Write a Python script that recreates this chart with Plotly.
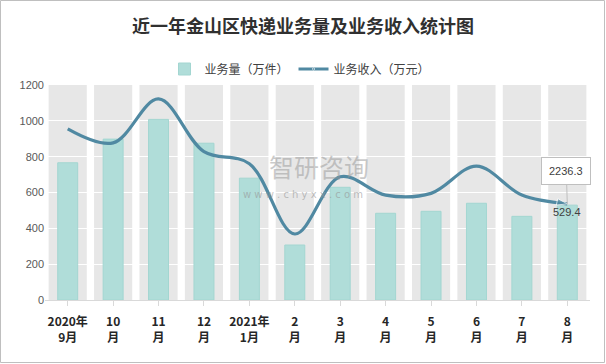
import plotly.graph_objects as go

categories = ["2020年<br>9月", "10<br>月", "11<br>月", "12<br>月", "2021年<br>1月", "2<br>月",
              "3<br>月", "4<br>月", "5<br>月", "6<br>月", "7<br>月", "8<br>月"]
volume = [766, 898, 1008, 875, 680, 307, 629, 484, 495, 540, 467, 529.4]
revenue = [3980, 3655, 4675, 3450, 3170, 1535, 2865, 2440, 2480, 3115, 2440, 2236.3]
y_ticks = [0, 200, 400, 600, 800, 1000, 1200]
y_max = 1200
y2_max = 5000

W, H = 606, 364
ML, MR, MT, MB = 45, 16, 85, 64
PW, PH = W - ML - MR, H - MT - MB

def px_x(p):
    return (p - ML) / PW

def px_y(p):
    return (H - MB - p) / PH

x_idx = list(range(len(categories)))

fig = go.Figure()

# background gray columns (one per category, full axis height)
for i in x_idx:
    fig.add_shape(type="rect", xref="x", yref="y", x0=i - 0.42, x1=i + 0.42, y0=0, y1=y_max,
                  fillcolor="#E7E7E7", line_width=0, layer="below")

fig.add_trace(go.Bar(
    x=x_idx, y=volume, name="业务量（万件）", width=0.44,
    marker=dict(color="#B0DDD9", line=dict(color="#A3D6D1", width=1)),
))

n = len(revenue)
symbols = ["diamond"] + ["circle"] * (n - 2) + ["arrow"]
sizes = [10] + [0] * (n - 2) + [11]
fig.add_trace(go.Scatter(
    x=x_idx, y=revenue, name="业务收入（万元）", yaxis="y2", mode="lines+markers",
    line=dict(color="#5089A2", width=3.2, shape="spline", smoothing=1.0),
    marker=dict(symbol=symbols, size=sizes, color="#5089A2", angleref="previous"),
))

# data labels
fig.add_annotation(x=x_idx[-1], y=revenue[-1], yref="y2", text=f"{revenue[-1]:.1f}",
                   showarrow=True, arrowhead=0, arrowcolor="#BFBFBF", arrowwidth=1,
                   ax=-1, ay=-33, bgcolor="white", bordercolor="#BFBFBF", borderwidth=1,
                   borderpad=7, font=dict(size=11, color="#404040", family="Liberation Sans"))
fig.add_annotation(x=x_idx[-1], y=volume[-1], yref="y", text=f"{volume[-1]:.1f}",
                   showarrow=False, yshift=-7, font=dict(size=11, color="#404040", family="Liberation Sans"))

# watermark
fig.add_annotation(xref="paper", yref="paper", x=px_x(319), y=px_y(186), yanchor="bottom",
                   text="智研咨询", showarrow=False,
                   font=dict(size=25, color="rgba(150,150,150,0.5)", family="Noto Sans CJK SC"))
fig.add_annotation(xref="paper", yref="paper", x=px_x(303), y=px_y(187), yanchor="top",
                   text="w w w . c h y x x . c o m",
                   showarrow=False, font=dict(size=10, color="rgba(150,150,150,0.6)", family="DejaVu Sans"))

# outer border
fig.add_shape(type="rect", xref="paper", yref="paper", x0=px_x(0.5), x1=px_x(W - 1.5),
              y0=px_y(H - 1.5), y1=px_y(0.5),
              line=dict(color="#BFBFBF", width=1), layer="above")

fig.update_layout(
    width=W, height=H,
    margin=dict(l=ML, r=MR, t=MT, b=MB, autoexpand=False),
    paper_bgcolor="white", plot_bgcolor="white",
    title=dict(text="<b>近一年金山区快递业务量及业务收入统计图</b>", x=0.5, xanchor="center",
               y=1 - 27 / H, yanchor="middle",
               font=dict(size=18, color="#303030", family="Noto Sans CJK SC")),
    legend=dict(orientation="h", x=px_x(300), xanchor="center", y=px_y(69), yanchor="middle",
                font=dict(size=12, color="#404040", family="Noto Sans CJK SC"),
                itemwidth=30, tracegroupgap=0),
    showlegend=True,
    xaxis=dict(
        tickmode="array", tickvals=x_idx, ticktext=categories, range=[-0.5, n - 0.5],
        showline=True, linecolor="#D9D9D9", linewidth=1, ticks="outside", tickson="boundaries",
        ticklen=5, tickcolor="#D9D9D9", showgrid=False, ticklabelstandoff=6, automargin=False,
        tickfont=dict(size=12, color="#262626", family="Noto Sans CJK SC", weight="bold"),
    ),
    yaxis=dict(
        range=[0, y_max], tickvals=y_ticks, showgrid=True, gridcolor="white", gridwidth=1,
        zeroline=False, showline=False, automargin=False,
        tickfont=dict(size=11, color="#595959", family="Liberation Sans"),
    ),
    yaxis2=dict(range=[0, y2_max], overlaying="y", side="right", visible=False, showgrid=False),
)

fig.write_html("out.html", config={"displayModeBar": False},
               post_script="document.body.style.margin='0';document.body.style.overflow='hidden';")
